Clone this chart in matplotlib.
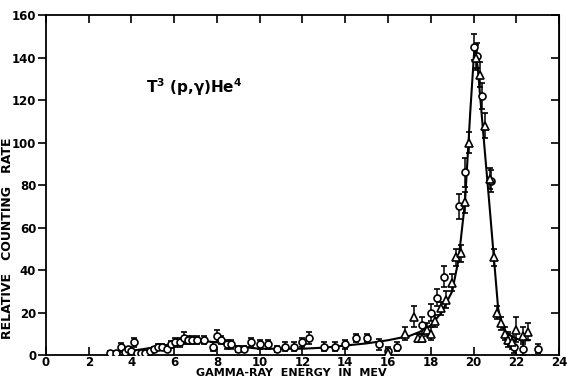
import numpy as np
import matplotlib.pyplot as plt

plt.rcParams['mathtext.default'] = 'regular'

# open circles
circ_e = [3.0, 3.3, 3.5, 3.7, 3.85, 4.0, 4.1, 4.25, 4.45, 4.65, 4.85, 5.05, 5.25, 5.45,
          5.65, 5.85, 6.05, 6.25, 6.45, 6.65, 6.85, 7.05, 7.4, 7.8, 8.0, 8.2, 8.45, 8.65,
          9.0, 9.25, 9.6, 10.0, 10.4, 10.8, 11.2, 11.6, 12.0, 12.3, 13.0, 13.5, 14.0,
          14.5, 15.0, 15.6, 16.0, 16.4, 17.6, 18.0, 18.3, 18.6, 19.3, 19.6, 20.0, 20.15,
          20.4, 20.8, 21.6, 21.9, 22.3, 23.0]
circ_r = [1, 1, 4, 1.5, 3, 2, 6, 1, 1, 1, 2, 3, 4, 4,
          3, 5, 6, 6, 8, 7, 7, 7, 7, 4, 9, 7, 5, 5,
          3, 3, 6, 5, 5, 3, 4, 4, 6, 8, 4, 4, 5,
          8, 8, 5, 2, 4, 14, 20, 27, 37, 70, 86, 145, 141,
          122, 82, 8, 4, 3, 3]
circ_err = [1, 1, 1.5, 1, 1, 1, 2, 1, 1, 1, 1, 1, 1, 1,
            1, 1.5, 2, 2, 3, 2, 2, 2, 2, 2, 3, 2, 2, 2,
            1.5, 1.5, 2, 2, 2, 1.5, 2, 2, 2, 3, 2, 2, 2,
            2, 2, 2.5, 2, 2, 4, 4, 4, 5, 6, 7, 6, 6,
            6, 5, 3, 3, 3, 2]

# open triangles
tri_e = [16.0, 16.8, 17.2, 17.4, 17.6, 17.8, 18.0, 18.2, 18.5, 18.7, 19.0, 19.2, 19.4,
         19.6, 19.8, 20.1, 20.3, 20.55, 20.75, 20.95, 21.1, 21.3, 21.45, 21.6, 21.8,
         22.0, 22.3, 22.55]
tri_r = [1, 10, 18, 8, 8, 12, 10, 16, 22, 26, 34, 46, 48,
         72, 100, 140, 132, 108, 83, 46, 20, 15, 10, 7, 6,
         12, 9, 11]
tri_err = [2, 3, 5, 2, 2, 3, 3, 3, 3, 4, 4, 4, 4,
           5, 5, 6, 6, 6, 5, 4, 3, 3, 3, 3, 3,
           6, 4, 4]

# hand-drawn fit curve
fit_e = [3.0, 4.0, 5.0, 5.5, 6.0, 6.5, 7.0, 7.5, 8.0, 8.5, 9.0, 10.0, 11.0, 12.0, 13.0,
         14.0, 15.0, 16.0, 17.0, 17.5, 18.0, 18.5, 19.0, 19.3, 19.6, 19.85, 20.05, 20.2,
         20.45, 20.75, 21.0, 21.15, 21.35, 21.7, 22.2, 22.6]
fit_r = [1, 2, 3.5, 4.5, 5.5, 7, 7, 6.5, 6, 5, 4, 3, 3, 3, 3.5,
         4.5, 5.5, 7, 9, 11, 14, 20, 30, 45, 72, 115, 146, 135,
         105, 70, 40, 22, 13, 9, 7, 7]

fig = plt.figure(figsize=(5.67, 3.81), dpi=100)
ax = fig.add_axes([0.081, 0.068, 0.905, 0.892])

ax.plot(fit_e, fit_r, color='black', lw=1.5, zorder=2)
ax.errorbar(circ_e, circ_r, yerr=circ_err, fmt='o', ms=5, mfc='white', mec='black',
            mew=1.2, ecolor='black', elinewidth=1.1, capsize=2, zorder=3)
ax.errorbar(tri_e, tri_r, yerr=tri_err, fmt='^', ms=6, mfc='white', mec='black',
            mew=1.2, ecolor='black', elinewidth=1.1, capsize=2, zorder=3)

ax.set_xlim(0, 24)
ax.set_ylim(0, 160)
ax.set_xticks(np.arange(0, 25, 2))
ax.set_yticks(np.arange(0, 161, 20))
ax.tick_params(axis='x', direction='in', length=6, width=1.2, top=True, pad=1,
               labelsize=8.5)
ax.tick_params(axis='y', direction='out', length=6, width=1.2, pad=1, labelsize=8.5)
ax.tick_params(axis='y', which='both', right=False)
ax2 = ax.secondary_yaxis('right')
ax2.set_yticks(np.arange(20, 161, 20))
ax2.tick_params(direction='in', length=6, width=1.2, labelright=False)
for lab in ax.get_xticklabels() + ax.get_yticklabels():
    lab.set_fontweight('bold')
for s in ax.spines.values():
    s.set_linewidth(1.3)

ax.set_xlabel('GAMMA-RAY  ENERGY  IN  MEV', fontsize=8, fontweight='bold')
ax.xaxis.set_label_coords(0.479, -0.038)
ax.set_ylabel('RELATIVE   COUNTING   RATE', fontsize=9, fontweight='bold')
ax.yaxis.set_label_coords(-0.062, 0.344)

ax.text(4.7, 126, 'T$^3$ (p,$\\gamma$)He$^4$', fontsize=11, fontweight='bold',
        va='center')

fig.savefig('out.png', dpi=100)
